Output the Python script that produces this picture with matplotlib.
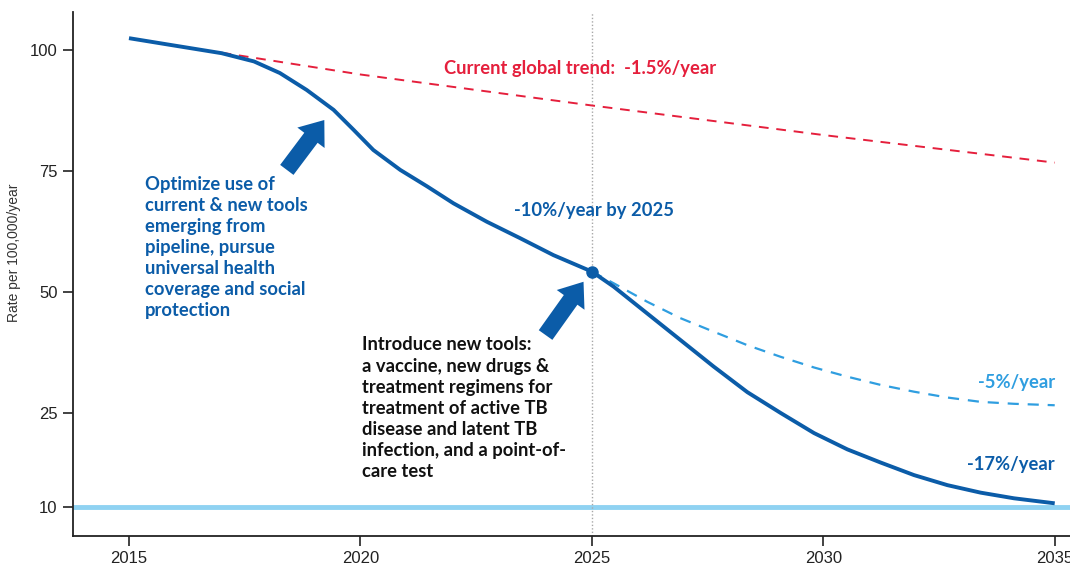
import numpy as np
import matplotlib
matplotlib.use("Agg")
import matplotlib.pyplot as plt
from matplotlib import font_manager

# --- data -------------------------------------------------------------
years_main = [2015.0, 2015.9, 2017.0, 2017.7, 2018.26, 2018.84, 2019.42, 2019.85,
              2020.28, 2020.86, 2021.44, 2022.01, 2022.73, 2023.45, 2024.17, 2025.0,
              2025.47, 2026.19, 2026.91, 2027.63, 2028.36, 2029.08, 2029.80, 2030.52,
              2031.24, 2031.96, 2032.68, 2033.40, 2034.12, 2035.0]
rate_main = [102.4, 101.0, 99.3, 97.6, 95.2, 91.7, 87.6, 83.5,
             79.3, 75.2, 71.8, 68.3, 64.5, 61.1, 57.6, 54.2,
             51.1, 45.6, 40.1, 34.6, 29.3, 25.0, 21.8, 19.2,
             17.1, 15.1, 13.5, 12.3, 11.4, 10.6]

years_trend = [2017.0, 2020.0, 2025.0, 2030.0, 2035.0]
rate_trend = [99.4, 94.9, 88.5, 82.4, 76.7]

years_5pct = [2025.0, 2025.47, 2026.19, 2026.91, 2027.63, 2028.36, 2029.08, 2029.80,
              2030.52, 2031.24, 2031.96, 2032.68, 2033.40, 2034.12, 2035.0]
rate_5pct = [54.2, 51.8, 48.0, 44.6, 41.8, 39.0, 36.6, 34.4,
             32.5, 30.8, 29.4, 28.2, 27.3, 26.9, 26.6]

milestone_year = 2025
milestone_rate = 54.2
target_rate = 10

yticks = [10, 25, 50, 75, 100]
xticks = [2015, 2020, 2025, 2030, 2035]

# --- styling ----------------------------------------------------------
DARK_BLUE = "#0b5ca8"
MID_BLUE = "#2f9ee0"
LIGHT_BLUE = "#8fd2f2"
RED = "#e51f3c"

def pick(names):
    avail = {f.name for f in font_manager.fontManager.ttflist}
    return [n for n in names if n in avail] + ["DejaVu Sans"]

ANN_FONT = pick(["Lato"])
TICK_FONT = pick(["Liberation Sans Narrow", "Liberation Sans"])
FS = 13.2

# y axis is stretched below 25 so the 10-target sits near the floor
K = 1.295

def fwd(y):
    y = np.asarray(y, dtype=float)
    return np.where(y >= 25, y, 25 - (25 - y) * K)

def inv(f):
    f = np.asarray(f, dtype=float)
    return np.where(f >= 25, f, 25 - (25 - f) / K)

fig = plt.figure(figsize=(10.7, 5.75), dpi=100)
ax = fig.add_axes([0.0682, 0.0678, 0.9318, 0.9113])
ax.set_yscale("function", functions=(fwd, inv))
ax.set_xlim(2013.79, 2035.33)
ax.set_ylim(float(inv(-0.4)), 107.8)

# target line and milestone guide
ax.axhline(target_rate, color=LIGHT_BLUE, lw=3.5, zorder=1)
ax.axvline(milestone_year, color="#a8a8a8", lw=1, ls=(0, (1, 1.5)), zorder=1)

# projections
ax.plot(years_trend, rate_trend, color=RED, lw=1.4, ls=(0, (5, 4)), zorder=2)
ax.plot(years_5pct, rate_5pct, color=MID_BLUE, lw=1.6, ls=(0, (5, 4)), zorder=2)
ax.plot(years_main, rate_main, color=DARK_BLUE, lw=2.8, solid_capstyle="butt",
        solid_joinstyle="round", zorder=3)
ax.plot([milestone_year], [milestone_rate], "o", color=DARK_BLUE, ms=8, zorder=4)

# arrows
arrow_kw = dict(arrowstyle="simple,head_length=1.6,head_width=2.45,tail_width=1.2",
                mutation_scale=10, color=DARK_BLUE, lw=0, shrinkA=0, shrinkB=0)
ax.annotate("", xy=(2019.22, 85.5), xytext=(2018.41, 75.2),
            arrowprops=arrow_kw, zorder=4)
ax.annotate("", xy=(2024.82, 52.1), xytext=(2024.0, 41.1),
            arrowprops=arrow_kw, zorder=4)

# annotations
ax.text(2021.81, 96.1, "Current global trend:  -1.5%/year", color=RED,
        fontsize=FS, fontweight="bold", family=ANN_FONT, va="center", ha="left")
ax.text(2023.32, 66.9, "-10%/year by 2025", color=DARK_BLUE,
        fontsize=FS, fontweight="bold", family=ANN_FONT, va="center", ha="left")
ax.text(2015.35, 74.0,
        "Optimize use of\ncurrent & new tools\nemerging from\npipeline, pursue\n"
        "universal health\ncoverage and social\nprotection",
        color=DARK_BLUE, fontsize=FS, fontweight="bold", family=ANN_FONT,
        va="top", ha="left", linespacing=1.29)
ax.text(2020.04, 40.8,
        "Introduce new tools:\na vaccine, new drugs &\ntreatment regimens for\n"
        "treatment of active TB\ndisease and latent TB\ninfection, and a point-of-\ncare test",
        color="#111111", fontsize=FS, fontweight="bold", family=ANN_FONT,
        va="top", ha="left", linespacing=1.29)
ax.text(2035.0, 31.3, "-5%/year", color=MID_BLUE, fontsize=FS, fontweight="bold",
        family=ANN_FONT, va="center", ha="right")
ax.text(2035.0, 16.8, "-17%/year", color=DARK_BLUE, fontsize=FS, fontweight="bold",
        family=ANN_FONT, va="center", ha="right")

# axes
for side in ("top", "right"):
    ax.spines[side].set_visible(False)
for side in ("left", "bottom"):
    ax.spines[side].set_linewidth(1.3)
    ax.spines[side].set_color("#222222")
ax.set_yticks(yticks)
ax.set_yticklabels([str(v) for v in yticks])
ax.set_xticks(xticks)
ax.set_xticklabels([str(v) for v in xticks])
ax.yaxis.set_minor_locator(matplotlib.ticker.NullLocator())
ax.tick_params(axis="both", direction="out", length=7, width=1.2, color="#222222",
               labelsize=12, labelcolor="#222222", pad=4)
for lab in ax.get_xticklabels() + ax.get_yticklabels():
    lab.set_family(TICK_FONT)
ax.set_ylabel("Rate per 100,000/year", fontsize=10, color="#333333", family=TICK_FONT)
ax.yaxis.set_label_coords(-0.052, 0.54)

fig.savefig("out.png", dpi=100)
